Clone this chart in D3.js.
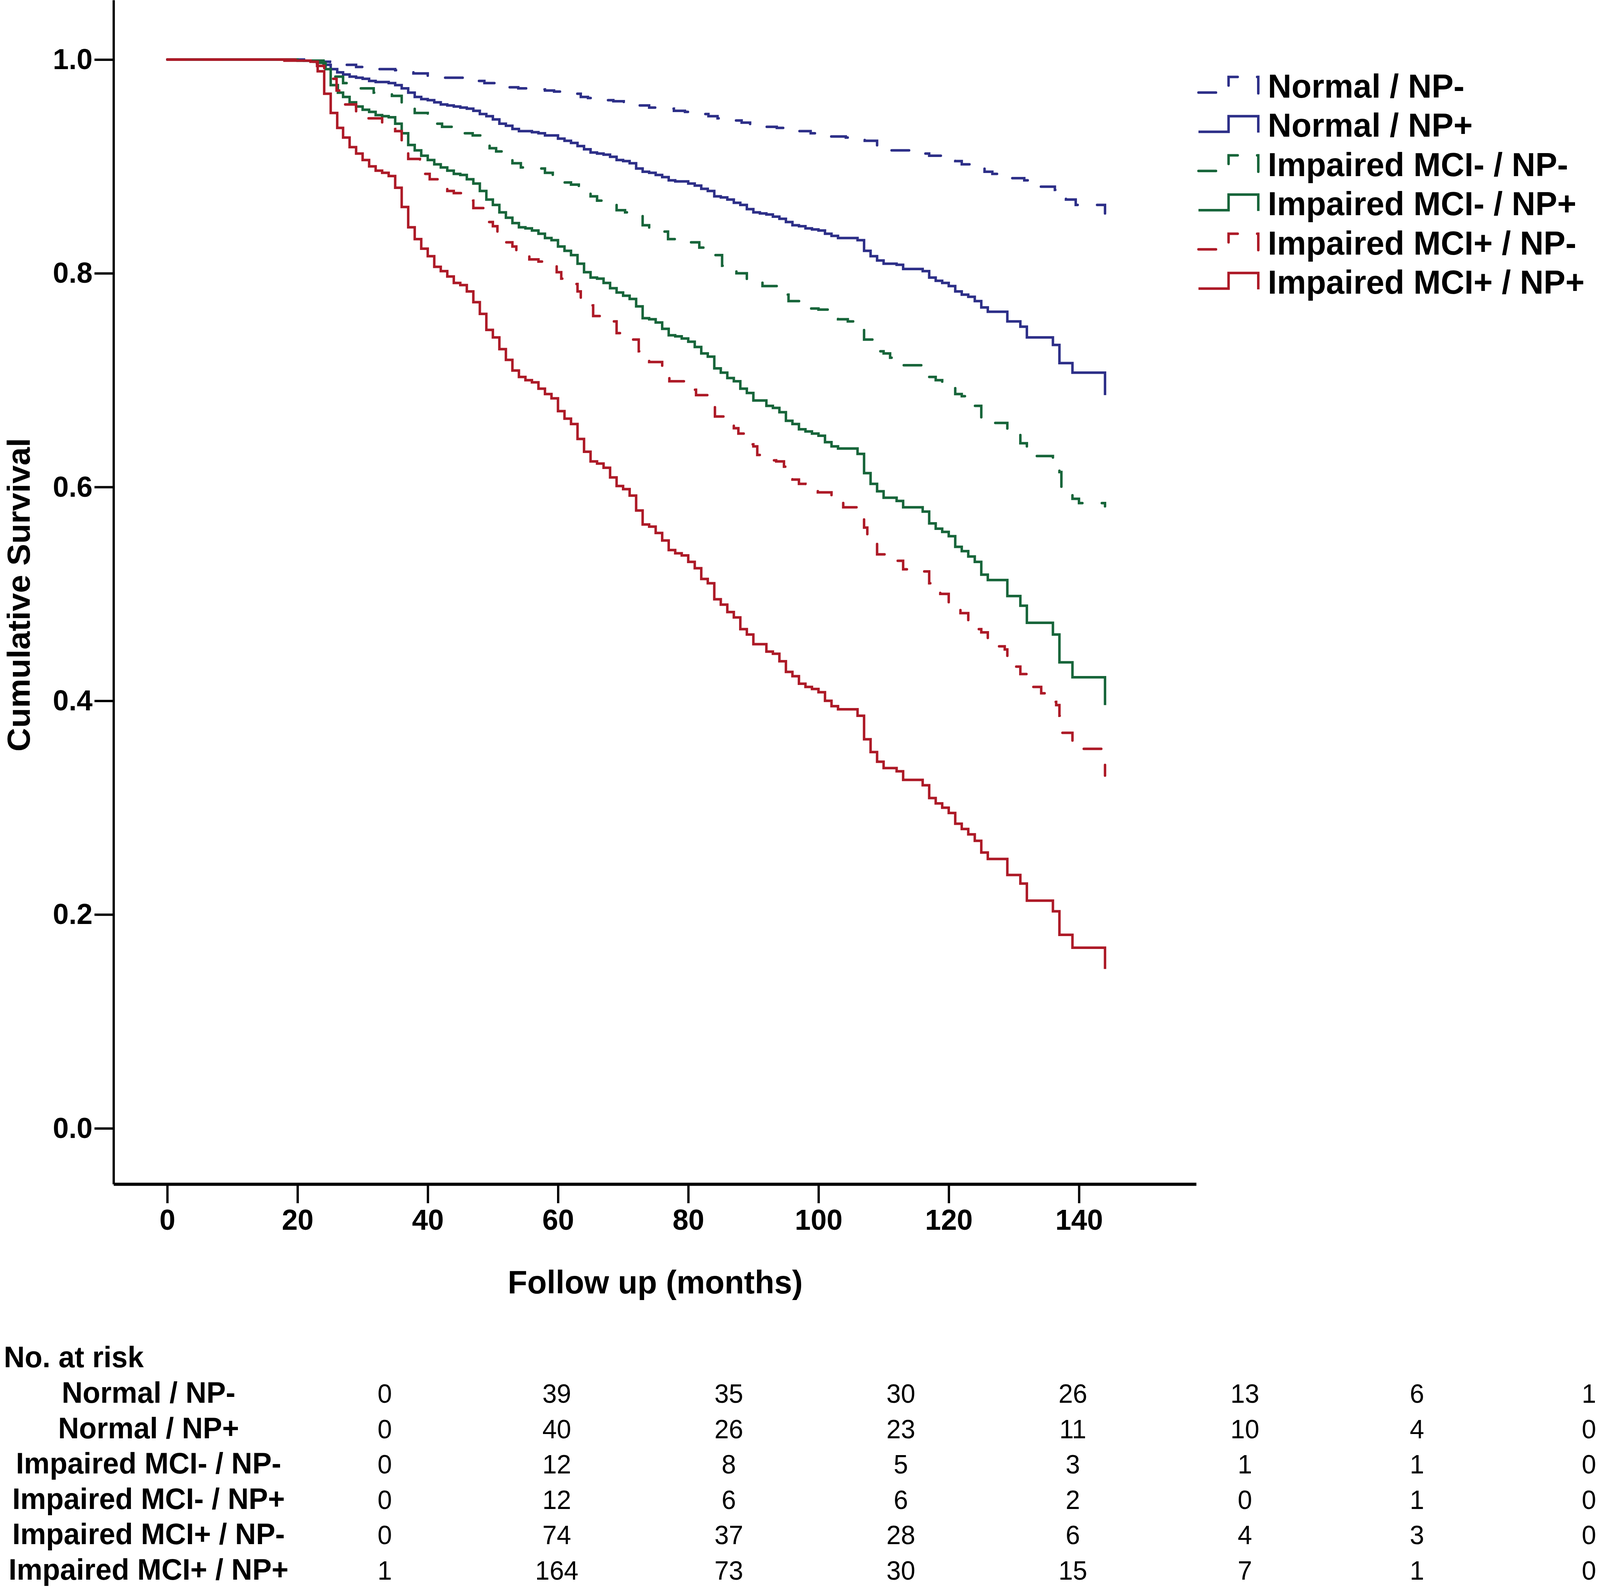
<!DOCTYPE html>
<html>
<head>
<meta charset="utf-8">
<script src="https://cdn.jsdelivr.net/npm/d3@7"></script>
<style>
  html, body { margin: 0; padding: 0; overflow: hidden; background: #fff; }
  #chart { position: fixed; left: 0; top: 0; width: 100vw; height: 100vh; display: block; }
  svg text { font-family: "Liberation Sans", Arial, Helvetica, sans-serif; fill: #000; }
</style>
</head>
<body>
<svg id="chart" viewBox="0 0 4200 4074" preserveAspectRatio="none"></svg>
<script>
// ---- data: [month, cumulative survival after the step] ----
const normalNPneg = [[0,1],[21,0.999],[23,0.998],[25,0.997],[27,0.995],[29,0.993],[31,0.992],[32.5,0.991],[35,0.990],[36.5,0.989],[37.8,0.987],[40,0.984],[42,0.983],[45.8,0.982],[47,0.980],[48.7,0.978],[50.9,0.975],[52.5,0.974],[53.9,0.973],[56.5,0.972],[58,0.971],[59.4,0.970],[62,0.968],[63.5,0.965],[64.6,0.964],[67.1,0.962],[68.5,0.961],[70.1,0.959],[72.5,0.957],[74,0.955],[75.2,0.954],[77.8,0.952],[79.5,0.951],[80.7,0.949],[83.1,0.947],[84.5,0.945],[85.9,0.943],[88.2,0.941],[89.5,0.939],[91,0.937],[93.6,0.936],[95,0.935],[96,0.933],[98.8,0.931],[100.5,0.929],[101.7,0.928],[104.2,0.927],[105.5,0.925],[107.1,0.924],[109,0.918],[110.5,0.915],[114.3,0.913],[116,0.912],[117,0.910],[119.4,0.907],[121,0.905],[122,0.902],[124.3,0.899],[125.5,0.895],[126.7,0.893],[128.9,0.889],[131.6,0.887],[133.8,0.881],[136.3,0.878],[138,0.869],[139.5,0.864],[144,0.856]];

const normalNPpos = [[0,1],[21,0.999],[23,0.997],[24,0.995],[25.1,0.991],[26.1,0.988],[27,0.986],[28,0.984],[29,0.983],[30,0.982],[31,0.980],[32,0.979],[34,0.978],[35,0.976],[36,0.973],[37,0.969],[38,0.965],[39,0.963],[40,0.962],[41,0.960],[42,0.958],[43,0.957],[44,0.956],[45,0.955],[46,0.954],[47,0.952],[48,0.949],[49,0.947],[50,0.944],[51,0.940],[52,0.938],[53,0.935],[54,0.933],[56,0.932],[57,0.931],[58,0.929],[60,0.926],[61,0.924],[62,0.922],[63,0.919],[64,0.916],[65,0.913],[66,0.912],[67,0.911],[68,0.909],[69,0.906],[70,0.905],[71,0.903],[72,0.898],[73,0.895],[74,0.894],[75,0.892],[76,0.890],[77,0.887],[78,0.886],[80,0.884],[81,0.882],[82,0.879],[83,0.877],[84,0.872],[85,0.871],[86,0.869],[87,0.866],[88,0.864],[89,0.860],[90,0.857],[91,0.856],[92,0.855],[93,0.853],[94,0.851],[95,0.848],[96,0.845],[97,0.844],[98,0.842],[99,0.841],[100,0.840],[101,0.837],[102,0.835],[103,0.833],[106,0.831],[107,0.821],[108,0.816],[109,0.812],[110,0.809],[112,0.808],[113,0.804],[116,0.802],[117,0.796],[118,0.793],[119,0.791],[120,0.788],[121,0.783],[122,0.780],[123,0.778],[124,0.774],[125,0.768],[126,0.764],[129,0.755],[131,0.750],[132,0.740],[136,0.733],[137,0.716],[139,0.707],[144,0.686]];

const mciNegNPneg = [[0,1],[21,0.999],[23,0.997],[24.3,0.990],[25.2,0.984],[27,0.978],[28.5,0.975],[29.4,0.973],[31.7,0.969],[33,0.968],[34.5,0.966],[36,0.958],[37,0.956],[38,0.950],[40,0.943],[41,0.940],[42.2,0.937],[44.2,0.933],[45.5,0.931],[46.9,0.929],[48.6,0.922],[49.5,0.917],[50.5,0.914],[52.1,0.906],[53,0.903],[54.3,0.899],[56.9,0.898],[58,0.894],[59.2,0.892],[61,0.885],[62,0.883],[63.2,0.878],[65,0.872],[66,0.868],[67.1,0.865],[69,0.859],[70.3,0.857],[71.5,0.854],[73,0.845],[74,0.842],[75.2,0.839],[76.9,0.832],[78,0.830],[79.7,0.829],[81.7,0.824],[82.8,0.819],[83.8,0.817],[85.2,0.807],[86.4,0.804],[87.4,0.800],[89,0.794],[91.4,0.788],[93.7,0.784],[94.5,0.780],[95.4,0.774],[97.3,0.769],[98.5,0.767],[100,0.766],[101.9,0.759],[103,0.757],[104.5,0.755],[106,0.752],[107,0.738],[109,0.727],[110,0.725],[111,0.721],[113,0.714],[117,0.703],[118,0.700],[119,0.696],[121,0.687],[122,0.685],[123,0.680],[124,0.676],[125,0.665],[126,0.660],[129,0.649],[131,0.641],[132,0.629],[136,0.620],[137,0.614],[137.3,0.598],[139,0.589],[140,0.585],[144,0.582]];

const mciNegNPpos = [[0,1],[20,0.999],[24,0.996],[24.3,0.991],[25.1,0.976],[26.2,0.969],[27,0.965],[28,0.960],[29,0.956],[30,0.953],[31,0.951],[32,0.948],[33,0.947],[34,0.946],[35,0.940],[36,0.931],[37,0.920],[38,0.915],[39,0.910],[40,0.906],[41,0.902],[42,0.899],[43,0.896],[44,0.893],[45,0.892],[46,0.888],[47,0.884],[48,0.877],[49,0.869],[50,0.864],[51,0.857],[52,0.852],[53,0.847],[54,0.843],[55,0.842],[56,0.840],[57,0.837],[58,0.833],[59,0.831],[60,0.825],[61,0.821],[62,0.817],[63,0.809],[64,0.801],[65,0.796],[66,0.795],[67,0.791],[68,0.786],[69,0.782],[70,0.779],[71,0.776],[72,0.769],[73,0.758],[74,0.757],[75,0.754],[76,0.748],[77,0.742],[78,0.741],[79,0.739],[80,0.736],[81,0.731],[82,0.725],[83,0.722],[84,0.711],[85,0.707],[86,0.702],[87,0.699],[88,0.692],[89,0.688],[90,0.681],[92,0.676],[93,0.674],[94,0.670],[95,0.662],[96,0.659],[97,0.654],[98,0.652],[99,0.650],[100,0.648],[101,0.642],[102,0.638],[103,0.636],[106,0.631],[107,0.613],[108,0.603],[109,0.596],[110,0.590],[112,0.587],[113,0.581],[116,0.577],[117,0.566],[118,0.561],[119,0.558],[120,0.554],[121,0.544],[122,0.540],[123,0.535],[124,0.530],[125,0.518],[126,0.513],[129,0.498],[131,0.489],[132,0.473],[136,0.462],[137,0.436],[139,0.422],[144,0.396]];

const mciPosNPneg = [[0,1],[20,0.999],[22,0.998],[23,0.994],[24.1,0.982],[26,0.971],[26.5,0.962],[27,0.958],[29,0.951],[30,0.945],[33,0.939],[34,0.935],[35,0.933],[36,0.920],[37,0.907],[38.8,0.899],[39.5,0.893],[40.3,0.888],[42,0.881],[43,0.877],[44,0.875],[46,0.868],[47,0.861],[49,0.848],[50,0.844],[50.7,0.839],[52,0.829],[53,0.825],[53.6,0.819],[55.6,0.813],[57,0.811],[58,0.808],[59.8,0.801],[60.5,0.795],[61.1,0.790],[63,0.783],[63.5,0.776],[64.1,0.770],[65.4,0.760],[66.5,0.758],[67.8,0.755],[69,0.744],[70,0.742],[71.2,0.738],[72.4,0.727],[74,0.717],[76,0.709],[76.5,0.706],[77.1,0.699],[79.5,0.696],[80.5,0.691],[81.2,0.686],[83,0.679],[83.6,0.676],[84.1,0.666],[86,0.660],[87,0.655],[87.7,0.650],[89,0.640],[90,0.638],[90.6,0.630],[92.7,0.625],[93.5,0.624],[94.7,0.619],[96,0.607],[97,0.603],[98,0.600],[99.9,0.595],[102,0.587],[103.8,0.581],[106.2,0.575],[107,0.562],[107.5,0.555],[108,0.548],[109,0.537],[111.4,0.531],[113,0.523],[116,0.521],[117,0.510],[118,0.505],[118.7,0.500],[120,0.492],[121.8,0.482],[123,0.472],[124,0.467],[125,0.464],[126,0.451],[128.6,0.448],[129,0.432],[131,0.425],[132,0.413],[134.2,0.407],[136,0.399],[136.5,0.396],[137,0.386],[137.4,0.370],[139,0.360],[140,0.355],[144,0.330]];

const mciPosNPpos = [[0,1],[18,0.999],[22,0.998],[23.1,0.989],[24.1,0.968],[25.1,0.950],[26.1,0.936],[27,0.927],[28,0.918],[29,0.912],[30,0.906],[31,0.900],[32,0.896],[33,0.894],[34,0.891],[35,0.880],[36,0.862],[37,0.843],[38,0.832],[39,0.823],[40,0.816],[41,0.806],[42,0.802],[43,0.797],[44,0.791],[45,0.789],[46,0.783],[47,0.773],[48,0.762],[49,0.747],[50,0.740],[51,0.729],[52,0.719],[53,0.709],[54,0.703],[55,0.700],[56,0.698],[57,0.692],[58,0.687],[59,0.683],[60,0.671],[61,0.664],[62,0.659],[63,0.645],[64,0.633],[65,0.624],[66,0.622],[67,0.618],[68,0.609],[69,0.601],[70,0.598],[71,0.592],[72,0.578],[73,0.565],[74,0.563],[75,0.557],[76,0.550],[77,0.541],[78,0.538],[79,0.536],[80,0.530],[81,0.524],[82,0.514],[83,0.510],[84,0.495],[85,0.490],[86,0.483],[87,0.478],[88,0.467],[89,0.462],[90,0.453],[92,0.446],[93,0.444],[94,0.437],[95,0.427],[96,0.423],[97,0.416],[98,0.413],[99,0.411],[100,0.408],[101,0.400],[102,0.395],[103,0.392],[106,0.386],[107,0.364],[108,0.352],[109,0.343],[110,0.337],[112,0.334],[113,0.326],[116,0.321],[117,0.309],[118,0.304],[119,0.300],[120,0.295],[121,0.285],[122,0.280],[123,0.275],[124,0.269],[125,0.258],[126,0.252],[129,0.237],[131,0.229],[132,0.213],[136,0.203],[137,0.181],[139,0.169],[144,0.149]];

const groupNames = ['Normal / NP-', 'Normal / NP+', 'Impaired MCI- / NP-', 'Impaired MCI- / NP+', 'Impaired MCI+ / NP-', 'Impaired MCI+ / NP+'];
const xTicks = [0, 20, 40, 60, 80, 100, 120, 140];
const yTicks = [0, 0.2, 0.4, 0.6, 0.8, 1.0];

// number at risk, one array per group
const riskNormalNPneg = [0, 39, 35, 30, 26, 13, 6, 1];
const riskNormalNPpos = [0, 40, 26, 23, 11, 10, 4, 0];
const riskMciNegNPneg = [0, 12, 8, 5, 3, 1, 1, 0];
const riskMciNegNPpos = [0, 12, 6, 6, 2, 0, 1, 0];
const riskMciPosNPneg = [0, 74, 37, 28, 6, 4, 3, 0];
const riskMciPosNPpos = [1, 164, 73, 30, 15, 7, 1, 0];

// ---- styling ----
const blue = '#2d2f88', green = '#17653a', red = '#ad1a27';
const series = [
  { name: groupNames[0], data: normalNPneg, color: blue,  dashed: true },
  { name: groupNames[1], data: normalNPpos, color: blue,  dashed: false },
  { name: groupNames[2], data: mciNegNPneg, color: green, dashed: true },
  { name: groupNames[3], data: mciNegNPpos, color: green, dashed: false },
  { name: groupNames[4], data: mciPosNPneg, color: red,   dashed: true },
  { name: groupNames[5], data: mciPosNPpos, color: red,   dashed: false }
];
const riskRows = [riskNormalNPneg, riskNormalNPpos, riskMciNegNPneg, riskMciNegNPpos, riskMciPosNPneg, riskMciPosNPpos];

const svg = d3.select('#chart');
const x = d3.scaleLinear().domain([-8.25, 158]).range([298, 3140]);
const y = d3.scaleLinear().domain([-0.0522, 1.0557]).range([3032, 0]);

// curves
const line = d3.line()
  .x(d => x(d[0]))
  .y(d => y(d[1]))
  .curve(d3.curveStepAfter);

svg.append('g').selectAll('path')
  .data(series)
  .join('path')
  .attr('d', d => line(d.data))
  .attr('fill', 'none')
  .attr('stroke', d => d.color)
  .attr('stroke-width', 6.5)
  .attr('stroke-linejoin', 'miter')
  .attr('stroke-linecap', d => d.dashed ? 'round' : 'butt')
  .attr('stroke-dasharray', d => d.dashed ? '46,51' : null);

// axes
const yAxis = d3.axisLeft(y)
  .tickValues(yTicks)
  .tickFormat(d3.format('.1f'))
  .tickSize(50)
  .tickSizeOuter(0)
  .tickPadding(5);
const gy = svg.append('g').attr('transform', 'translate(298,0)').call(yAxis);
gy.select('.domain').attr('stroke', '#000').attr('stroke-width', 6);
gy.selectAll('.tick line').attr('stroke', '#000').attr('stroke-width', 6);
gy.selectAll('.tick text')
  .style('font-size', '75px').style('font-weight', 'bold').attr('fill', '#000');

const xAxis = d3.axisBottom(x)
  .tickValues(xTicks)
  .tickFormat(d3.format('d'))
  .tickSize(49)
  .tickSizeOuter(0)
  .tickPadding(15);
const gx = svg.append('g').attr('transform', 'translate(0,3032)').call(xAxis);
gx.select('.domain').attr('stroke', '#000').attr('stroke-width', 8);
gx.selectAll('.tick line').attr('stroke', '#000').attr('stroke-width', 6);
gx.selectAll('.tick text')
  .style('font-size', '75px').style('font-weight', 'bold').attr('fill', '#000');

// axis titles
svg.append('text')
  .attr('x', 1720).attr('y', 3312)
  .attr('text-anchor', 'middle')
  .style('font-size', '84px').style('font-weight', 'bold')
  .text('Follow up (months)');

svg.append('text')
  .attr('transform', 'translate(78,1523) rotate(-90)')
  .attr('text-anchor', 'middle')
  .style('font-size', '84px').style('font-weight', 'bold')
  .text('Cumulative Survival');

// legend
const legend = svg.append('g').selectAll('g')
  .data(series)
  .join('g')
  .attr('transform', (d, i) => `translate(0,${237 + i * 100.4})`);

legend.append('path')
  .attr('d', 'M3146,0 H3225 V-40 H3303 V2')
  .attr('fill', 'none')
  .attr('stroke', d => d.color)
  .attr('stroke-width', 6.5)
  .attr('stroke-linecap', d => d.dashed ? 'round' : 'butt')
  .attr('stroke-dasharray', d => d.dashed ? '46,51' : null);

legend.append('text')
  .attr('x', 3328).attr('y', 13)
  .style('font-size', '86px').style('font-weight', 'bold')
  .text(d => d.name);

// number at risk table
const col = d3.scaleLinear().domain([0, 7]).range([1010, 4171]);
const rowY = d3.scaleLinear().domain([0, 1]).range([3592, 3682.6]);

svg.append('text')
  .attr('x', 10).attr('y', 3501)
  .style('font-size', '76px').style('font-weight', 'bold')
  .text('No. at risk');

const rows = svg.append('g').selectAll('g')
  .data(riskRows)
  .join('g')
  .attr('transform', (d, i) => `translate(0,${rowY(i)})`);

rows.append('text')
  .attr('x', 390)
  .attr('text-anchor', 'middle')
  .style('font-size', '76px').style('font-weight', 'bold')
  .text((d, i) => groupNames[i]);

rows.selectAll('text.n')
  .data(d => d)
  .join('text')
  .attr('class', 'n')
  .attr('x', (d, j) => col(j))
  .attr('text-anchor', 'middle')
  .style('font-size', '68px')
  .text(d => d);
</script>
</body>
</html>
